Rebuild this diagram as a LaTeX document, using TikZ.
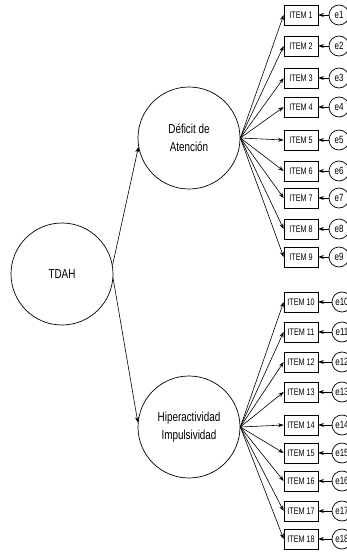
\documentclass[tikz,border=0pt]{standalone}
\usepackage{fontspec}
\setmainfont[FakeStretch=0.76]{Liberation Sans}
\usetikzlibrary{arrows.meta}
\begin{document}
\begin{tikzpicture}[x=1pt,y=-1pt,
  latent/.style={circle,draw,line width=0.7pt,minimum size=102pt,inner sep=0pt,align=center,font=\fontsize{13}{17.5}\selectfont},
  itembox/.style={rectangle,draw,line width=0.7pt,minimum width=34pt,minimum height=20pt,inner sep=0pt,font=\fontsize{9.5}{10}\selectfont},
  err/.style={circle,draw,line width=0.7pt,minimum size=20pt,inner sep=0pt,font=\fontsize{10.5}{11}\selectfont},
  arr/.style={-{Stealth[length=5.5pt,width=4pt]},line width=0.6pt}]
\useasboundingbox (0,0) rectangle (347,554);
\node[latent] (tdah) at (62,274) {TDAH};
\node[latent] (def) at (189,138) {Déficit de\\Atención};
\node[latent] (hip) at (189,427) {Hiperactividad\\Impulsividad};
\draw[arr] (tdah.10) -- (def.190);
\draw[arr] (tdah.-5) -- (hip.175);
\foreach \n/\y in {1/15,2/46,3/78,4/107,5/140,6/171,7/198,8/229,9/257}{
  \node[itembox] (i\n) at (301,\y) {ITEM \n};
  \node[err] (e\n) at (339,\y) {e\n};
  \draw[arr] (e\n) -- (i\n);
  \draw[arr] (def.east) -- (i\n.west);
}
\foreach \n/\y in {10/302,11/332,12/362,13/392,14/425,15/453,16/481,17/511,18/539}{
  \node[itembox] (i\n) at (301,\y) {ITEM \n};
  \node[err] (e\n) at (342,\y) {e\n};
  \draw[arr] (e\n) -- (i\n);
  \draw[arr] (hip.east) -- (i\n.west);
}
\end{tikzpicture}
\end{document}
